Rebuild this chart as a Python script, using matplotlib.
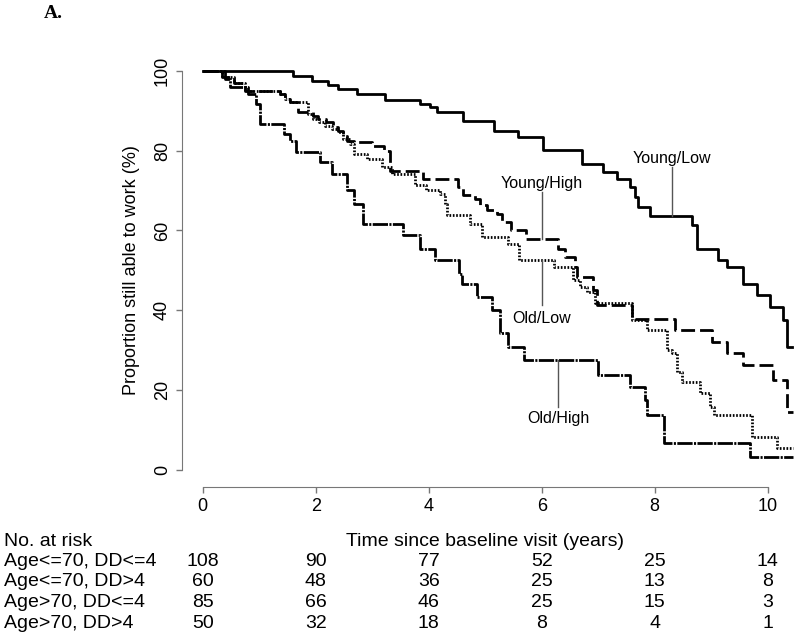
import matplotlib
matplotlib.use("Agg")
import matplotlib.pyplot as plt
import matplotlib.transforms as mtransforms

plt.rcParams['font.family'] = ['Liberation Sans', 'DejaVu Sans']

#%% survival curves (years, % still able to work)
t_young_low = [0, 1.60, 1.93, 2.22, 2.39, 2.73, 3.23, 3.85, 4.02, 4.15, 4.61, 5.16, 5.58, 6.02,
               6.71, 7.09, 7.33, 7.56, 7.65, 7.70, 7.91, 8.66, 8.74, 9.12, 9.28, 9.57, 9.81,
               10.04, 10.27, 10.34, 10.43]
s_young_low = [100, 98.75, 97.3, 96.5, 95.5, 94.25, 92.75, 91.75, 90.8, 89.6, 87.5, 84.8, 83.3,
               80.25, 76.7, 74.6, 72.9, 70.8, 68.3, 65.8, 63.5, 61.25, 55.4, 52.7, 50.8, 46.7,
               43.75, 40.8, 37.5, 30.8, 30.8]

t_young_high = [0, 0.35, 0.55, 0.75, 1.37, 1.45, 1.54, 1.69, 1.96, 2.04, 2.19, 2.31, 2.40, 2.49,
                2.55, 2.67, 2.99, 3.20, 3.31, 3.90, 4.52, 4.61, 4.82, 4.91, 5.03, 5.20, 5.29,
                5.45, 5.73, 6.29, 6.41, 6.59, 6.62, 6.91, 6.97, 7.59, 8.36, 9.01, 9.28, 9.57,
                10.10, 10.34, 10.44]
s_young_high = [100, 98.5, 97, 95, 94.2, 92.9, 92.1, 89.6, 88.75, 87.9, 87.1, 85.8, 85, 83.75,
                82.5, 82.1, 81.25, 80, 75, 72.9, 70.8, 68.75, 67.9, 66.25, 65, 64.2, 62.1, 60,
                57.9, 55.4, 53.3, 50.8, 48.3, 45, 41.25, 37.9, 35, 32.1, 29.2, 26.25, 22.5,
                14.6, 14.6]

t_old_low = [0, 0.35, 0.55, 0.75, 1.37, 1.45, 1.54, 1.87, 1.96, 2.05, 2.16, 2.28, 2.40, 2.49,
             2.61, 2.67, 2.90, 3.17, 3.35, 3.76, 3.96, 4.20, 4.29, 4.32, 4.73, 4.94, 5.41, 5.59,
             6.21, 6.56, 6.68, 6.80, 6.94, 7.59, 7.86, 8.21, 8.30, 8.39, 8.48, 8.80, 8.98, 9.04,
             9.72, 10.17, 10.44]
s_old_low = [100, 98.5, 97, 95, 94.2, 92.9, 92.1, 89.2, 87.9, 87.1, 86.25, 85.4, 84.6, 82.9,
             81.7, 79.2, 77.9, 75.8, 74.2, 71.25, 70, 69.2, 66.7, 63.75, 61.7, 58.3, 56.7, 52.5,
             50.8, 47.5, 45.8, 44.6, 41.7, 37.5, 35, 30, 29.2, 24.6, 22.1, 19.2, 15.8, 13.75,
             8.2, 5.4, 5.4]

t_old_high = [0, 0.40, 0.49, 0.81, 0.95, 1.02, 1.43, 1.54, 1.66, 2.08, 2.28, 2.55, 2.67, 2.84,
              3.55, 3.85, 4.11, 4.53, 4.59, 4.85, 5.12, 5.26, 5.41, 5.68, 7.00, 7.56, 7.83,
              7.86, 8.17, 9.68, 10.44]
s_old_high = [100, 98, 95.8, 94.2, 91.75, 86.75, 84.25, 82.5, 79.6, 77.1, 74.2, 70, 66.7, 61.7,
              58.75, 55.4, 52.5, 49.2, 46.7, 43.3, 40, 34.2, 30.8, 27.5, 23.75, 20.8, 17.5,
              13.75, 6.8, 3.3, 3.3]

#%% numbers at risk
risk_times = [0, 2, 4, 6, 8, 10]
risk_groups = ['Age<=70, DD<=4', 'Age<=70, DD>4', 'Age>70, DD<=4', 'Age>70, DD>4']
risk_young_low = [108, 90, 77, 52, 25, 14]
risk_young_high = [60, 48, 36, 25, 13, 8]
risk_old_low = [85, 66, 46, 25, 15, 3]
risk_old_high = [50, 32, 18, 8, 4, 1]

#%% figure
fig = plt.figure(figsize=(8, 6.32), dpi=100)
W, H = 800, 632
ax = fig.add_axes([202.7 / W, 162 / H, 593.3 / W, 399.3 / H])

ax.step(t_young_low, s_young_low, where='post', color='black', lw=2, clip_on=False)
ax.step(t_young_high, s_young_high, where='post', color='black', lw=2,
        linestyle=(0, (5, 1.8)), clip_on=False)
ax.step(t_old_low, s_old_low, where='post', color='black', lw=2,
        linestyle=(0, (0.6, 0.6)), clip_on=False)
ax.step(t_old_high, s_old_high, where='post', color='black', lw=2,
        linestyle=(0, (5.5, 0.5, 0.75, 0.5)), clip_on=False)

# curve labels with leader lines
lab_col = '#555555'
ax.plot([8.30, 8.30], [75.8, 63.5], color=lab_col, lw=1)
ax.text(8.30, 78, 'Young/Low', ha='center', va='center', fontsize=11.5)
ax.plot([6.0, 6.0], [69.6, 57.9], color=lab_col, lw=1)
ax.text(6.0, 71.8, 'Young/High', ha='center', va='center', fontsize=11.5)
ax.plot([6.0, 6.0], [52.5, 41.25], color=lab_col, lw=1)
ax.text(6.0, 37.9, 'Old/Low', ha='center', va='center', fontsize=11.5)
ax.plot([6.29, 6.29], [27.5, 15.8], color=lab_col, lw=1)
ax.text(6.29, 13, 'Old/High', ha='center', va='center', fontsize=11.5)

ax.set_xlim(0, 10.5)
ax.set_ylim(0, 100)
ax.set_xticks(risk_times)
ax.set_yticks([0, 20, 40, 60, 80, 100])
for s in ['top', 'right']:
    ax.spines[s].set_visible(False)
ax.spines['left'].set_position(('outward', 15))
ax.spines['bottom'].set_position(('outward', 12))
ax.spines['left'].set_bounds(0, 100)
ax.spines['bottom'].set_bounds(0, 10)
for s in ['left', 'bottom']:
    ax.spines[s].set_color('#777777')
ax.tick_params(colors='#777777', labelcolor='black', labelsize=13, length=4, width=1, pad=4)
for lbl in ax.get_yticklabels():
    lbl.set_rotation(90)
    lbl.set_va('center')

fig.text(131.7 / W, 1 - 270 / H, 'Proportion still able to work (%)', rotation=90,
         ha='center', va='center', fontsize=13)
fig.text(53 / W, 1 - 13 / H, 'A.', fontsize=14, fontweight='bold',
         family='Liberation Serif', ha='center', va='center')

#%% risk table
trans = mtransforms.blended_transform_factory(ax.transData, fig.transFigure)
row_y = [541, 561.5, 582, 602.5, 623]
fig.text(4 / W, 1 - row_y[0] / H, 'No. at risk', fontsize=14, va='center')
ax.text(5.0, 1 - row_y[0] / H, 'Time since baseline visit (years)', transform=trans,
        ha='center', va='center', fontsize=14)
risk_rows = [risk_young_low, risk_young_high, risk_old_low, risk_old_high]
for i, (name, counts) in enumerate(zip(risk_groups, risk_rows)):
    yy = 1 - row_y[i + 1] / H
    fig.text(4 / W, yy, name, fontsize=14, va='center')
    for t, n in zip(risk_times, counts):
        ax.text(t, yy, str(n), transform=trans, ha='center', va='center', fontsize=14)

fig.savefig('out.png', dpi=100)
